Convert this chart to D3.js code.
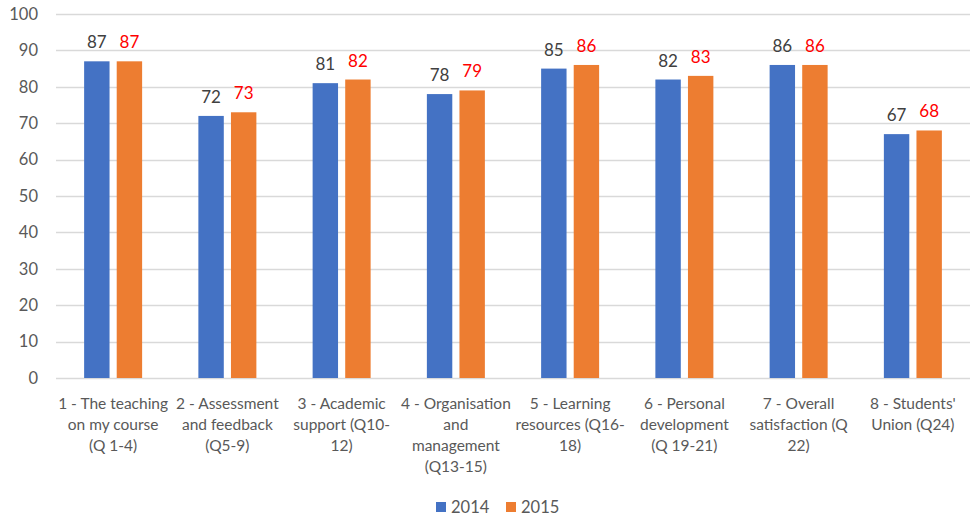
<!DOCTYPE html>
<html>
<head>
<meta charset="utf-8">
<script src="https://cdn.jsdelivr.net/npm/d3@7.9.0/dist/d3.min.js"></script>
<style>
  body { margin: 0; background: #fff; }
  svg { display: block; font-family: Lato, "Open Sans", sans-serif; }
</style>
</head>
<body>
<svg id="chart" width="970" height="517"></svg>
<script>
// data
const categories = [
  "1 - The teaching\non my course\n(Q 1-4)",
  "2 - Assessment\nand feedback\n(Q5-9)",
  "3 - Academic\nsupport (Q10-\n12)",
  "4 - Organisation\nand\nmanagement\n(Q13-15)",
  "5 - Learning\nresources (Q16-\n18)",
  "6 - Personal\ndevelopment\n(Q 19-21)",
  "7 - Overall\nsatisfaction (Q\n22)",
  "8 - Students'\nUnion (Q24)"
];
const series = ["2014", "2015"];
const values2014 = [87, 72, 81, 78, 85, 82, 86, 67];
const values2015 = [87, 73, 82, 79, 86, 83, 86, 68];
const yTicks = [0, 10, 20, 30, 40, 50, 60, 70, 80, 90, 100];

const colors = { "2014": "#4472C4", "2015": "#ED7D31" };
const labelColors = { "2014": "#404040", "2015": "#FF0000" };

const svg = d3.select('#chart');
const margin = { left: 56, right: 0, top: 14, bottom: 139 };
const width = 970, height = 517;

let x = d3.scaleBand()
  .domain(categories)
  .range([margin.left, width - margin.right]);

let xInner = d3.scaleBand()
  .domain(series)
  .range([0, 58])
  .paddingInner(0.22);

let y = d3.scaleLinear()
  .domain([0, 100])
  .range([height - margin.bottom, margin.top]);

// gridlines
svg.append('g')
  .selectAll('line')
  .data(yTicks)
  .enter()
  .append('line')
  .attr('x1', margin.left)
  .attr('x2', width - margin.right)
  .attr('y1', d => Math.round(y(d)) + 0.5)
  .attr('y2', d => Math.round(y(d)) + 0.5)
  .attr('stroke', '#d9d9d9')
  .attr('stroke-width', 1.3);

// y labels
svg.append('g')
  .selectAll('text')
  .data(yTicks)
  .enter()
  .append('text')
  .attr('x', 38)
  .attr('y', d => y(d))
  .attr('dy', '0.35em')
  .attr('text-anchor', 'end')
  .attr('fill', '#595959')
  .attr('font-size', 16.5)
  .text(d => d);

let rows = categories.map((c, i) => ({
  cat: c,
  vals: [
    { key: "2014", value: values2014[i] },
    { key: "2015", value: values2015[i] }
  ]
}));

let groups = svg.append('g')
  .selectAll('g')
  .data(rows)
  .enter()
  .append('g')
  .attr('transform', d => `translate(${x(d.cat) + (x.bandwidth() - 58) / 2},0)`);

groups.selectAll('rect')
  .data(d => d.vals)
  .enter()
  .append('rect')
  .attr('x', d => xInner(d.key))
  .attr('width', xInner.bandwidth())
  .attr('y', d => y(d.value))
  .attr('height', d => y(0) - y(d.value))
  .attr('fill', d => colors[d.key]);

groups.selectAll('text')
  .data(d => d.vals)
  .enter()
  .append('text')
  .attr('x', d => xInner(d.key) + xInner.bandwidth() / 2)
  .attr('y', d => y(d.value) - 13)
  .attr('text-anchor', 'middle')
  .attr('fill', d => labelColors[d.key])
  .attr('font-size', 17)
  .text(d => d.value);

// category labels
let catLabels = svg.append('g')
  .selectAll('text')
  .data(categories)
  .enter()
  .append('text')
  .attr('x', d => x(d) + x.bandwidth() / 2)
  .attr('y', 409)
  .attr('text-anchor', 'middle')
  .attr('fill', '#595959')
  .attr('font-size', 15.5);

catLabels.selectAll('tspan')
  .data(d => d.split('\n'))
  .enter()
  .append('tspan')
  .attr('x', function () { return d3.select(this.parentNode).attr('x'); })
  .attr('dy', (d, i) => i === 0 ? 0 : 21)
  .text(d => d);

// legend
let legend = svg.append('g').attr('transform', 'translate(436,507)');
let legendX = [0, 70];
series.forEach((s, i) => {
  legend.append('rect')
    .attr('x', legendX[i])
    .attr('y', -5)
    .attr('width', 10)
    .attr('height', 10)
    .attr('fill', colors[s]);
  legend.append('text')
    .attr('x', legendX[i] + 15)
    .attr('y', 0)
    .attr('dy', '0.35em')
    .attr('fill', '#595959')
    .attr('font-size', 16.5)
    .text(s);
});
</script>
</body>
</html>
